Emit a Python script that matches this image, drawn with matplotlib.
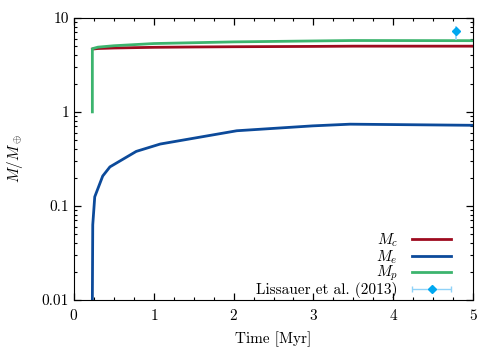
import numpy as np
import matplotlib
matplotlib.use("Agg")
import matplotlib.pyplot as plt
from matplotlib.ticker import FixedLocator, FixedFormatter, LogLocator, MultipleLocator
from matplotlib.legend_handler import HandlerErrorbar

plt.rcParams['font.family'] = 'serif'
plt.rcParams['font.serif'] = ['cmr10', 'DejaVu Serif']
plt.rcParams['mathtext.fontset'] = 'cm'
plt.rcParams['axes.formatter.use_mathtext'] = True
plt.rcParams['font.size'] = 11

# core mass
t_c = [0.23, 0.3, 0.5, 1.0, 1.5, 2.0, 3.0, 3.5, 4.0, 5.0]
m_c = [4.65, 4.72, 4.78, 4.86, 4.90, 4.93, 4.97, 5.0, 5.0, 5.0]

# envelope mass
t_e = [0.23, 0.235, 0.26, 0.36, 0.45, 0.78, 1.08, 2.04, 2.99, 3.46, 5.0]
m_e = [0.01, 0.063, 0.125, 0.208, 0.26, 0.38, 0.455, 0.63, 0.71, 0.74, 0.72]

# planet mass
t_p = [0.23, 0.23, 0.3, 0.5, 1.0, 2.0, 3.0, 3.5, 5.0]
m_p = [1.0, 4.7, 4.88, 5.05, 5.33, 5.55, 5.68, 5.74, 5.72]

# Lissauer et al. (2013)
obs_t = [4.79]
obs_m = [7.3]
obs_err_lo = [1.5]
obs_err_hi = [0.8]

fig = plt.figure(figsize=(5, 3.5), dpi=100)
ax = fig.add_axes([0.148, 0.143, 0.798, 0.806])

l_e, = ax.plot(t_e, m_e, color='#0c4a9a', lw=2.0)
l_c, = ax.plot(t_c, m_c, color='#9e0b1f', lw=2.0)
l_p, = ax.plot(t_p, m_p, color='#3cb46e', lw=2.0)

ax.errorbar(obs_t, obs_m, yerr=[obs_err_lo, obs_err_hi], fmt='D', ms=4,
            color='#00a8f0', ecolor='#8fd2f8', elinewidth=1.2, capsize=0)
proxy = ax.errorbar([np.nan], [np.nan], xerr=[[1], [1]], fmt='D', ms=4,
                    color='#00a8f0', ecolor='#8fd2f8', elinewidth=1.0, capsize=2)

ax.set_yscale('log')
ax.set_xlim(0, 5)
ax.set_ylim(0.01, 10)

ax.xaxis.set_major_locator(MultipleLocator(1))
ax.xaxis.set_minor_locator(MultipleLocator(0.25))
ax.yaxis.set_major_locator(FixedLocator([0.01, 0.1, 1, 10]))
ax.yaxis.set_major_formatter(FixedFormatter(['0.01', '0.1', '1', '10']))
ax.yaxis.set_minor_locator(LogLocator(base=10, subs=np.arange(2, 10)))
ax.yaxis.set_minor_formatter(plt.NullFormatter())

ax.tick_params(which='both', direction='in', top=True, right=True)
ax.tick_params(which='major', length=5, width=0.9)
ax.tick_params(which='minor', length=2.5, width=0.8)
ax.tick_params(axis='x', pad=6)

ax.set_xlabel('Time [Myr]', labelpad=6)
ax.set_ylabel(r'$M/M_\oplus$', labelpad=12)

ax.legend([l_c, l_e, l_p, proxy],
          [r'$M_c$', r'$M_e$', r'$M_p$', 'Lissauer et al. (2013)'],
          loc='lower right', bbox_to_anchor=(0.965, -0.02),
          frameon=False, markerfirst=False,
          handlelength=2.6, labelspacing=-0.1, borderaxespad=0.2,
          handletextpad=0.9, borderpad=0.3,
          handler_map={proxy: HandlerErrorbar(xerr_size=1.3)})

fig.savefig('out.png', dpi=100)
